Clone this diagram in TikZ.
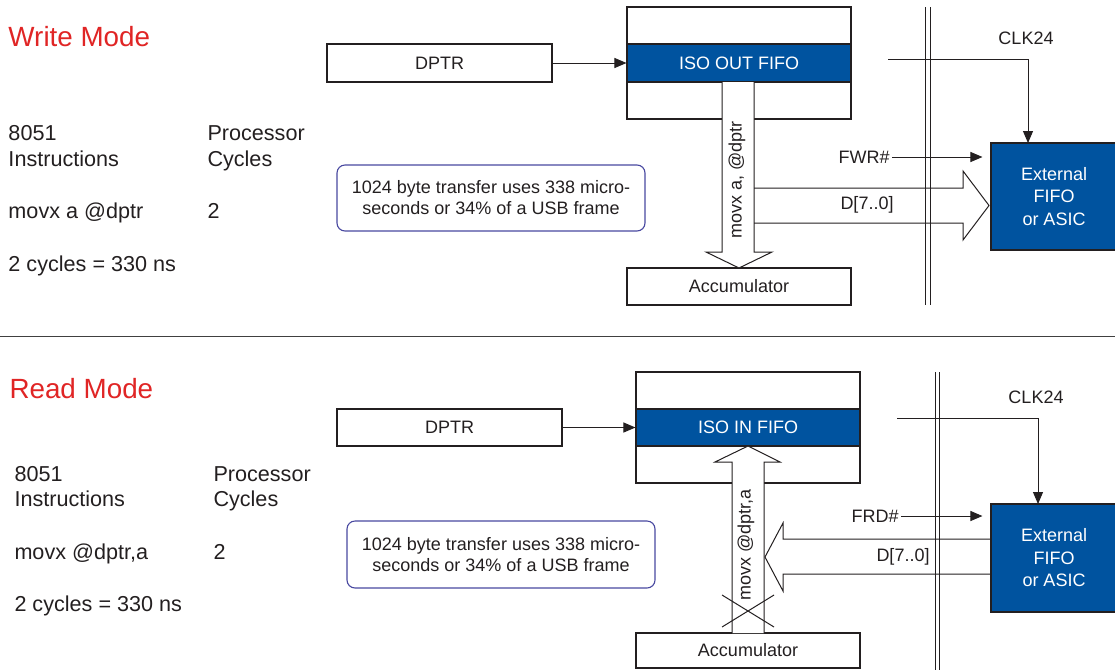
\documentclass[tikz,border=0pt]{standalone}
\usepackage{fontspec}
\setmainfont{Liberation Sans}
\usetikzlibrary{arrows.meta,calc}
\definecolor{fifoblue}{RGB}{0,83,159}
\definecolor{titlered}{RGB}{224,37,37}
\definecolor{noteblue}{RGB}{72,72,160}
\definecolor{txt}{RGB}{35,31,32}
\begin{document}
\begin{tikzpicture}[x=1pt,y=-1pt,line width=1pt,
  every node/.style={text=txt},
  box/.style={draw=txt,line width=1.1pt,inner sep=0pt,font=\fontsize{18}{22}\selectfont},
  bandbox/.style={draw=txt,line width=1.1pt,fill=fifoblue,text=white,inner sep=0pt,font=\fontsize{18}{22}\selectfont},
  extbox/.style={draw=txt,line width=1.1pt,fill=fifoblue,text=white,inner sep=0pt,align=center,font=\fontsize{18}{22.5}\selectfont},
  notebox/.style={draw=noteblue,line width=1.1pt,rounded corners=8pt,inner sep=0pt,align=center,font=\fontsize{18}{21}\selectfont},
  lbl/.style={inner sep=0pt,font=\fontsize{18}{22}\selectfont},
  lefttxt/.style={anchor=base west,inner sep=0pt,font=\fontsize{21.6}{26}\selectfont},
  title/.style={anchor=base west,inner sep=0pt,text=titlered,font=\fontsize{27.8}{32}\selectfont},
  sig/.style={draw=txt,line width=1pt,-{Triangle[length=12pt,width=10pt]}},
  wire/.style={draw=txt,line width=1pt},
  hollow/.style={draw=txt,line width=1pt,fill=white,line join=miter}
]
\useasboundingbox (0,0) rectangle (1115,670);

% ================= WRITE MODE =================
\node[title] (wtitle) at (8,46) {Write Mode};
\node[lefttxt] (w8051) at (8,140) {8051};
\node[lefttxt] (winstr) at (8,166) {Instructions};
\node[lefttxt] (wproc) at (207,140) {Processor};
\node[lefttxt] (wcyc) at (207,166) {Cycles};
\node[lefttxt] (wmovx) at (8,218) {movx a @dptr};
\node[lefttxt] (wtwo) at (207,218) {2};
\node[lefttxt] (wns) at (8,271) {2 cycles = 330 ns};

\node[box,minimum width=225pt,minimum height=38pt] (dptr1) at (439.5,63) {DPTR};
\node[box,minimum width=224pt,minimum height=112pt] (fifo1) at (739,63) {};
\node[bandbox,minimum width=224pt,minimum height=38pt] (band1) at (739,63) {ISO OUT FIFO};
\node[box,minimum width=224pt,minimum height=37pt] (acc1) at (739,286.5) {Accumulator};
\node[extbox,minimum width=126pt,minimum height=107pt] (ext1) at (1054,196.5) {External\\FIFO\\or ASIC};
\node[notebox,minimum width=308pt,minimum height=66pt] (note1) at (491,198) {1024 byte transfer uses 338 micro-\\seconds or 34\% of a USB frame};

\draw[sig] (dptr1.east) -- (band1.west);

% hollow arrow down to accumulator
\draw[hollow] (722,82) -- (722,252) -- (706,252) -- (739,268) -- (772,252) -- (754,252) -- (754,82);
\node[lbl,rotate=90] (wmov) at (737,180) {movx a, @dptr};

% hollow arrow to external FIFO
\draw[wire] (754,188) -- (963,188) -- (963,171) -- (989,205.5) -- (963,240) -- (963,223) -- (754,223);
\node[lbl] (wd) at (867,205) {D[7..0]};

% FWR#
\node[lbl,anchor=east] (fwr) at (890,157) {FWR\#};
\draw[sig,shorten <=2pt,shorten >=8pt] (fwr.east) -- (fwr.east -| ext1.west);

% CLK24
\node[lbl] (clk1) at (1026,38) {CLK24};
\coordinate (clkA1) at (888,59);
\coordinate (clkB1) at (1028,143);
\draw[sig] (clkA1) -| (clkB1);

% double vertical lines
\draw[wire] (925,7) -- (925,305);
\draw[wire] (930,7) -- (930,305);

% separator
\draw[draw=black!75,line width=1pt] (0,336) -- (1115,336);

% ================= READ MODE =================
\node[title] (rtitle) at (9,398) {Read Mode};
\node[lefttxt] (r8051) at (14,481) {8051};
\node[lefttxt] (rinstr) at (14,506) {Instructions};
\node[lefttxt] (rproc) at (213,481) {Processor};
\node[lefttxt] (rcyc) at (213,506) {Cycles};
\node[lefttxt] (rmovx) at (14,559) {movx @dptr,a};
\node[lefttxt] (rtwo) at (213,559) {2};
\node[lefttxt] (rns) at (14,611) {2 cycles = 330 ns};

\node[box,minimum width=225pt,minimum height=37pt] (dptr2) at (449.5,427.5) {DPTR};
\node[box,minimum width=224pt,minimum height=111pt] (fifo2) at (748,427.5) {};
\node[bandbox,minimum width=224pt,minimum height=37pt] (band2) at (748,427.5) {ISO IN FIFO};
\node[box,minimum width=224pt,minimum height=35pt] (acc2) at (748,650.5) {Accumulator};
\node[extbox,minimum width=126pt,minimum height=108pt] (ext2) at (1054,558) {External\\FIFO\\or ASIC};
\node[notebox,minimum width=308pt,minimum height=67pt] (note2) at (501,554.5) {1024 byte transfer uses 338 micro-\\seconds or 34\% of a USB frame};

\draw[sig] (dptr2.east) -- (band2.west);

% hollow arrow up into FIFO
\draw[hollow] (732,633) -- (732,462) -- (715,462) -- (748,446) -- (780,462) -- (764,462) -- (764,633);
\node[lbl,rotate=90] (rmov) at (746,545) {movx @dptr,a};

% hollow arrow from external FIFO
\draw[wire] (991,539) -- (783,539) -- (783,523) -- (765,557) -- (783,591) -- (783,574) -- (991,574);
\node[lbl] (rd) at (903,557) {D[7..0]};

% cross
\draw[wire] (722,595) -- (774,627);
\draw[wire] (722,627) -- (774,595);

% FRD#
\node[lbl,anchor=east] (frd) at (899,516) {FRD\#};
\draw[sig,shorten <=2pt,shorten >=8pt] (frd.east) -- (frd.east -| ext2.west);

% CLK24
\node[lbl] (clk2) at (1036,397) {CLK24};
\coordinate (clkA2) at (897,418);
\coordinate (clkB2) at (1038,504);
\draw[sig] (clkA2) -| (clkB2);

% double vertical lines
\draw[wire] (935,372) -- (935,670);
\draw[wire] (939,372) -- (939,670);
\end{tikzpicture}
\end{document}
